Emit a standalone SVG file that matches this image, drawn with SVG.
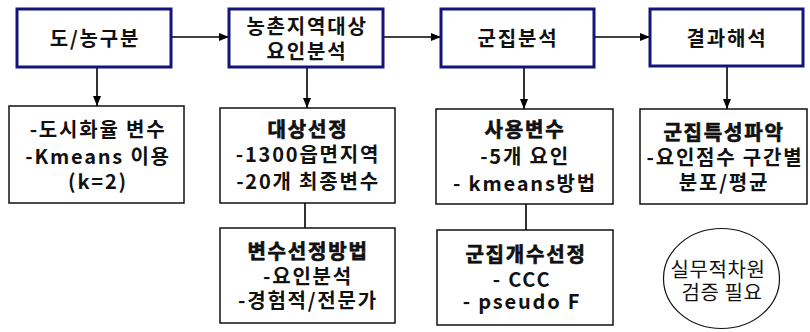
<svg xmlns="http://www.w3.org/2000/svg" width="810" height="332" viewBox="0 0 810 332">
<defs>
<marker id="ah" markerWidth="10" markerHeight="8" refX="10" refY="4" orient="auto" markerUnits="userSpaceOnUse">
<path d="M0,0 L10,4 L0,8 Z" fill="#000"/>
</marker>
<style>
.top{fill:#fff;stroke:#14147a;stroke-width:3}
.box{fill:#fff;stroke:#111;stroke-width:1.5}
.t{font-family:"Noto Sans CJK KR","Noto Sans",sans-serif;font-size:20px;font-weight:bold;fill:#111;text-anchor:middle;letter-spacing:1.8px}
.h{stroke:#111;stroke-width:0.7}
.r{font-family:"Noto Sans CJK KR","Noto Sans",sans-serif;font-size:20px;fill:#111;text-anchor:middle;letter-spacing:0.6px}
.c{stroke:#000;stroke-width:1.5;fill:none}
.v{stroke:#333;stroke-width:2;fill:none}
</style>
</defs>
<g id="connectors">
<line class="c" x1="171" y1="37" x2="229" y2="37" marker-end="url(#ah)"/>
<line class="c" x1="383" y1="37" x2="441" y2="37" marker-end="url(#ah)"/>
<line class="c" x1="594" y1="37" x2="650" y2="37" marker-end="url(#ah)"/>
<line class="v" x1="97" y1="67" x2="97" y2="106" marker-end="url(#ah)"/>
<line class="v" x1="307" y1="67" x2="307" y2="108" marker-end="url(#ah)"/>
<line class="v" x1="524" y1="67" x2="524" y2="109" marker-end="url(#ah)"/>
<line class="v" x1="727" y1="66" x2="727" y2="109" marker-end="url(#ah)"/>
<line class="v" x1="305" y1="203" x2="305" y2="228"/>
<line class="v" x1="526" y1="204" x2="526" y2="230"/>
</g>
<g id="n1">
<rect class="top" x="17" y="9" width="154" height="58"/>
<text class="t" x="95" y="46">도/농구분</text>
</g>
<g id="n2">
<rect class="top" x="229" y="9" width="154" height="58"/>
<text class="t" x="307" y="34">농촌지역대상</text>
<text class="t" x="307" y="59">요인분석</text>
</g>
<g id="n3">
<rect class="top" x="441" y="9" width="153" height="58"/>
<text class="t" x="518" y="46">군집분석</text>
</g>
<g id="n4">
<rect class="top" x="650" y="9" width="153" height="57"/>
<text class="t" x="727" y="46">결과해석</text>
</g>
<g id="n5">
<rect class="box" x="9" y="106" width="175" height="97"/>
<text class="t" x="98" y="137">-도시화율 변수</text>
<text class="t" x="98" y="164">-Kmeans 이용</text>
<text class="t" x="98" y="189">(k=2)</text>
</g>
<g id="n6">
<rect class="box" x="220" y="108" width="175" height="95"/>
<text class="t h" x="308" y="137">대상선정</text>
<text class="t" x="308" y="162">-1300읍면지역</text>
<text class="t" x="308" y="189">-20개 최종변수</text>
</g>
<g id="n7">
<rect class="box" x="436" y="109" width="177" height="95"/>
<text class="t h" x="525" y="137">사용변수</text>
<text class="t" x="525" y="164">-5개 요인</text>
<text class="t" x="525" y="191">- kmeans방법</text>
</g>
<g id="n8">
<rect class="box" x="640" y="109" width="167" height="95"/>
<text class="t h" x="724" y="140">군집특성파악</text>
<text class="t" x="725" y="165">-요인점수 구간별</text>
<text class="t" x="724" y="190">분포/평균</text>
</g>
<g id="n9">
<rect class="box" x="220" y="228" width="175" height="95"/>
<text class="t h" x="308" y="259">변수선정방법</text>
<text class="t" x="308" y="284">-요인분석</text>
<text class="t" x="308" y="308">-경험적/전문가</text>
</g>
<g id="n10">
<rect class="box" x="437" y="230" width="176" height="95"/>
<text class="t h" x="526" y="262">군집개수선정</text>
<text class="t" x="522" y="287">- CCC</text>
<text class="t" x="522" y="309">- pseudo F</text>
</g>
<g id="n11">
<ellipse cx="721.5" cy="278.5" rx="58" ry="50" fill="#fff" stroke="#111" stroke-width="1.2"/>
<text class="r" x="718" y="277">실무적차원</text>
<text class="r" x="722" y="300">검증 필요</text>
</g>
</svg>
